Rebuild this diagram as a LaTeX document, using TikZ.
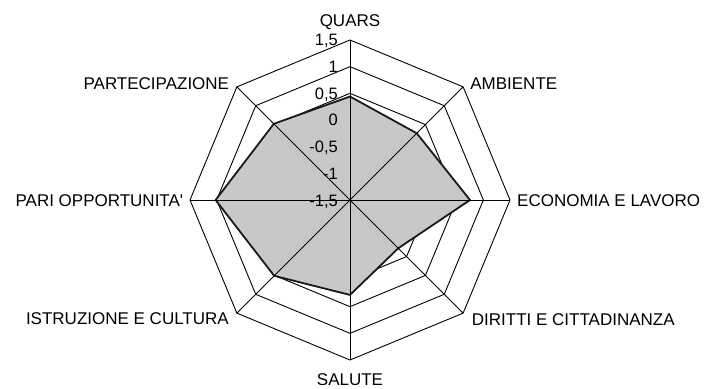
\documentclass[tikz,border=0pt]{standalone}
\usepackage{fontspec}
\setmainfont{Liberation Sans}
\definecolor{areagray}{RGB}{200,200,203}
\tikzset{
  ring/.style={draw=black, line width=0.9pt},
  spoke/.style={draw=black, line width=0.9pt},
  area/.style={fill=areagray, draw=black!90, line width=1.8pt, line join=round},
  catlabel/.style={font=\fontsize{17}{20}\selectfont, inner sep=0pt},
  vallabel/.style={font=\fontsize{16.5}{20}\selectfont, inner sep=0pt, anchor=base east},
}
\begin{document}
\begin{tikzpicture}[x=1pt, y=1pt]
\useasboundingbox (-350,-188) rectangle (356,200);

% ends of the spokes
\coordinate (c) at (0,0);
\coordinate (q) at (90:160);
\coordinate (amb) at (45:160);
\coordinate (eco) at (0:160);
\coordinate (dir) at (-45:160);
\coordinate (sal) at (-90:160);
\coordinate (ist) at (-135:160);
\coordinate (pari) at (180:160);
\coordinate (part) at (135:160);

% rings, one every 0,5
\foreach \k in {1,...,6}
  \draw[ring] (0:{\k*26.667}) -- (45:{\k*26.667}) -- (90:{\k*26.667}) -- (135:{\k*26.667})
    -- (180:{\k*26.667}) -- (225:{\k*26.667}) -- (270:{\k*26.667}) -- (315:{\k*26.667}) -- cycle;

% values
\coordinate (vq) at (90:{(0.44+1.5)*53.333});
\coordinate (vamb) at (45:{(0.27+1.5)*53.333});
\coordinate (veco) at (0:{(0.75+1.5)*53.333});
\coordinate (vdir) at (-45:{(-0.22+1.5)*53.333});
\coordinate (vsal) at (-90:{(0.28+1.5)*53.333});
\coordinate (vist) at (-135:{(0.51+1.5)*53.333});
\coordinate (vpari) at (180:{(1.02+1.5)*53.333});
\coordinate (vpart) at (135:{(0.52+1.5)*53.333});
\draw[area] (vq) -- (vamb) -- (veco) -- (vdir) -- (vsal) -- (vist) -- (vpari) -- (vpart) -- cycle;

\foreach \n in {q,amb,eco,dir,sal,ist,pari,part}
  \draw[spoke] (c) -- (\n);

% scale
\foreach \k/\t in {0/{-1,5},1/-1,2/{-0,5},3/0,4/{0,5},5/1,6/{1,5}}
  \node[vallabel] (val\k) at (-12,{\k*26.667-6}) {\t};

\node[catlabel, anchor=base] (lq) at ([yshift=13.3]q) {QUARS};
\node[catlabel, anchor=base west] (lamb) at ([shift={(7,-3)}]amb) {AMBIENTE};
\node[catlabel, anchor=base west] (leco) at ([shift={(7,-6.7)}]eco) {ECONOMIA E LAVORO};
\node[catlabel, anchor=base west] (ldir) at ([shift={(8.6,-12)}]dir) {DIRITTI E CITTADINANZA};
\node[catlabel, anchor=base] (lsal) at ([yshift=-25]sal) {SALUTE};
\node[catlabel, anchor=base east] (list) at ([shift={(-7.9,-11.6)}]ist) {ISTRUZIONE E CULTURA};
\node[catlabel, anchor=base east] (lpari) at ([shift={(-6.6,-6.7)}]pari) {PARI OPPORTUNITA\textquotesingle};
\node[catlabel, anchor=base east] (lpart) at ([shift={(-7.6,-3.1)}]part) {PARTECIPAZIONE};
\end{tikzpicture}
\end{document}
